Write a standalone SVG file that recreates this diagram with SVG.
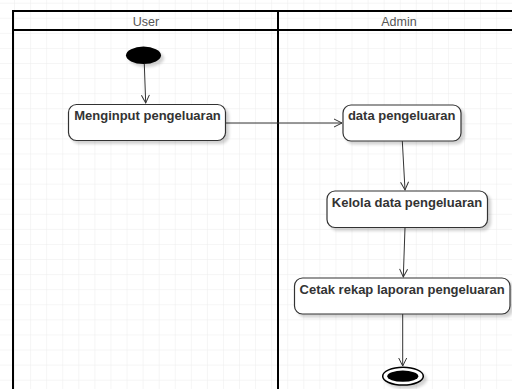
<svg xmlns="http://www.w3.org/2000/svg" width="512" height="389" viewBox="0 0 512 389">
<defs>
<pattern id="grid" x="-2" y="2.7" width="16.07" height="15.08" patternUnits="userSpaceOnUse">
<path d="M0 0H16.07M0 0V15.08" fill="none" stroke="#ececec" stroke-width="1"/>
</pattern>
<marker id="arr" markerWidth="12" markerHeight="12" refX="9" refY="5" orient="auto" markerUnits="userSpaceOnUse">
<path d="M1 1L9 5L1 9" fill="none" stroke="#333" stroke-width="1"/>
</marker>
<filter id="sh" x="-20%" y="-20%" width="150%" height="150%">
<feGaussianBlur in="SourceAlpha" stdDeviation="1.5"/>
<feOffset dx="3" dy="3" result="b"/>
<feComponentTransfer><feFuncA type="linear" slope="0.18"/></feComponentTransfer>
<feMerge><feMergeNode/><feMergeNode in="SourceGraphic"/></feMerge>
</filter>
</defs>
<style>
.box{fill:#fff;stroke:#333;stroke-width:1.2;filter:url(#sh)}
.lbl{font-family:"Liberation Sans",Arial,sans-serif;font-weight:bold;font-size:13px;fill:#333;text-anchor:middle}
.hdr{font-family:"Liberation Sans",Arial,sans-serif;font-size:12.5px;fill:#555;text-anchor:middle}
.lane{fill:none;stroke:#000;stroke-width:2}
.con{fill:none;stroke:#333;stroke-width:1;marker-end:url(#arr)}
</style>
<rect width="512" height="389" fill="#fff"/>
<rect width="512" height="389" fill="url(#grid)"/>
<g id="swimlanes">
<rect x="13" y="11" width="510" height="400" class="lane"/>
<line x1="13" y1="30" x2="523" y2="30" class="lane"/>
<line x1="278" y1="11" x2="278" y2="400" class="lane"/>
<text x="146" y="26" class="hdr">User</text>
<text x="399" y="26" class="hdr">Admin</text>
</g>
<g id="connectors">
<line x1="144.3" y1="64" x2="145.7" y2="103" class="con"/>
<line x1="226" y1="123" x2="342" y2="123" class="con"/>
<line x1="402.3" y1="141" x2="405" y2="190" class="con"/>
<line x1="405" y1="227.5" x2="403.3" y2="277" class="con"/>
<line x1="402.7" y1="314" x2="402.7" y2="366" class="con"/>
</g>
<g id="start">
<ellipse cx="143.5" cy="55.3" rx="17.5" ry="8.7" fill="#000" filter="url(#sh)"/>
</g>
<g id="menginput">
<rect x="68.5" y="104.5" width="157" height="36" rx="8" class="box"/>
<text x="147.5" y="120" class="lbl">Menginput pengeluaran</text>
</g>
<g id="data">
<rect x="343" y="105" width="118" height="36" rx="8" class="box"/>
<text x="401.7" y="120" class="lbl">data pengeluaran</text>
</g>
<g id="kelola">
<rect x="327" y="191" width="160.5" height="36.5" rx="8" class="box"/>
<text x="407" y="206.5" class="lbl">Kelola data pengeluaran</text>
</g>
<g id="cetak">
<rect x="294.5" y="278" width="215.5" height="36" rx="8" class="box"/>
<text x="402.2" y="293.5" class="lbl">Cetak rekap laporan pengeluaran</text>
</g>
<g id="end">
<ellipse cx="403" cy="376.2" rx="20.3" ry="8.9" fill="#fff" stroke="#000" stroke-width="1.5" filter="url(#sh)"/>
<ellipse cx="402.8" cy="376.2" rx="15.5" ry="5.6" fill="#000"/>
</g>
</svg>
